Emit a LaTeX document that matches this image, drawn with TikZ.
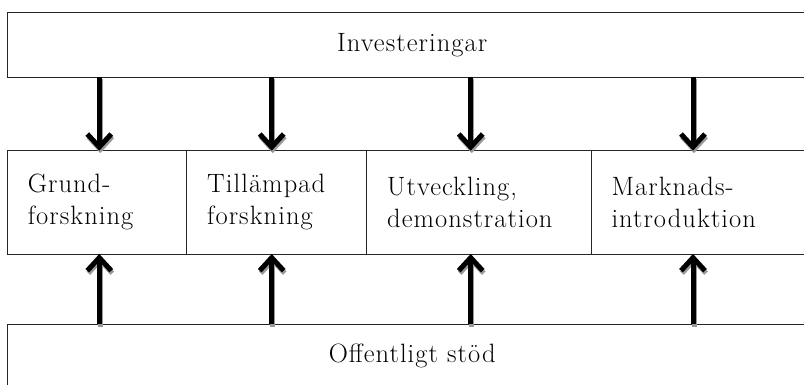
\documentclass[tikz,border=0pt]{standalone}
\usepackage{fontspec}
\setmainfont{Latin Modern Roman}[LetterSpace=4]
\usetikzlibrary{arrows.meta}
\tikzset{
  box/.style={draw=black!85, line width=0.9pt, rectangle, inner sep=0pt, outer sep=0pt, anchor=north west,
    font=\fontsize{26.5}{32}\selectfont},
  cell/.style={box, minimum height=103.3pt, align=left, inner xsep=20.5pt},
  arr/.style={line width=5pt, line cap=butt, -{Straight Barb[length=13pt,width=24pt]}},
  arrshadow/.style={arr, draw=black!40, transform canvas={shift={(1pt,-2.5pt)}}},
}
\begin{document}
\begin{tikzpicture}[x=1pt,y=-1pt]
\useasboundingbox (0,0) rectangle (804,385);
\clip (0,0) rectangle (804,385);
% top box
\node[box, minimum width=809.7pt, minimum height=64.3pt] (top) at (7.3,12.7) {Investeringar};
% middle cells
\node[cell, minimum width=179.4pt, text width=138.4pt] (c1) at (7.3,150.7) {Grund-\\forskning};
\node[cell, minimum width=180pt, text width=139pt] (c2) at (186.7,150.7) {Tillämpad\\forskning};
\node[cell, minimum width=224.3pt, text width=183.3pt] (c3) at (366.7,150.7) {Utveckling,\\demonstration};
\node[cell, minimum width=226pt, text width=185pt] (c4) at (591,150.7) {Marknads-\\introduktion};
% bottom box
\node[box, minimum width=809.7pt, minimum height=64pt] (bot) at (7.3,324) {Offentligt stöd};
% arrow columns
\coordinate (x1) at (99.3,0);
\coordinate (x2) at (271.7,0);
\coordinate (x3) at (470.7,0);
\coordinate (x4) at (693,0);
\foreach \i in {1,2,3,4}{
  \draw[arrshadow] (x\i |- top.south) -- (x\i |- c\i.north);
  \draw[arrshadow] (x\i |- bot.north) -- (x\i |- c\i.south);
}
\foreach \i in {1,2,3,4}{
  \draw[arr] (x\i |- top.south) -- (x\i |- c\i.north);
  \draw[arr] (x\i |- bot.north) -- (x\i |- c\i.south);
}
\end{tikzpicture}
\end{document}
